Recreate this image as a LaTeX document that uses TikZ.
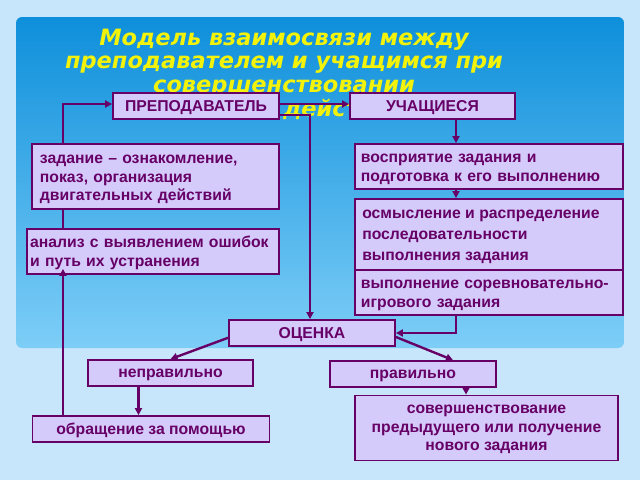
\documentclass[tikz,border=0pt]{standalone}
\usepackage{fontspec}
\setmainfont{Liberation Sans}
\newfontfamily\headfont{DejaVu Sans}
\usetikzlibrary{arrows.meta, positioning}
\definecolor{plum}{HTML}{660066}
\definecolor{lilac}{HTML}{D5CBFB}
\definecolor{sky}{HTML}{C7E6FB}
\definecolor{paneltop}{HTML}{0E8FDB}
\definecolor{panelbottom}{HTML}{7DCEF7}
\definecolor{headyellow}{HTML}{F2F20A}

\begin{document}
\begin{tikzpicture}[
  x=0.025cm, y=-0.025cm,
  block/.style={rectangle, draw=plum, fill=lilac, line width=1.3pt,
                text=plum, font=\fontsize{11.2}{13}\selectfont\bfseries,
                inner sep=0pt, align=center, text depth=0pt},
  leftblock/.style={block, align=left, inner xsep=0.15cm,
                text height=8pt, text depth=#1},
  leftblock/.default=13pt,
  plaintext/.style={text=plum, font=\fontsize{11.2}{14.8}\selectfont\bfseries,
                align=left, inner sep=0pt},
  heading/.style={text=headyellow, align=center, inner sep=0pt,
                font=\headfont\fontsize{16}{16.9}\selectfont\bfseries\itshape},
  arrow/.style={-{Triangle[length=5pt,width=5pt]}, line width=1.7pt, draw=plum},
  line/.style={line width=1.7pt, draw=plum},
]
  \useasboundingbox (0,0) rectangle (640,480);
  % Backdrop and heading
  \fill[sky] (0,0) rectangle (640,480);
  \shade[top color=paneltop, bottom color=panelbottom, rounded corners=0.15cm]
    (16,17) rectangle (624,348);
  \node[heading] (head) at (284,63)
    {Модель взаимосвязи между\\преподавателем и учащимся при\\совершенствовании};
  \node[heading, anchor=west] (headtail) at (283,109) {действий};

  % Upper blocks
  \node[block, minimum width=4.15cm, minimum height=0.65cm]  (prep)  at (196,106)   {ПРЕПОДАВАТЕЛЬ};
  \node[block, minimum width=4.125cm, minimum height=0.65cm] (stud)  at (432.5,106) {УЧАЩИЕСЯ};
  \node[leftblock=26pt, minimum width=6.175cm, minimum height=1.625cm, inner xsep=0.2cm, text width=5.775cm] (task) at (155.5,176.5)
        {задание – ознакомление,\\показ, организация\\двигательных действий};
  \node[leftblock, minimum width=6.3cm, minimum height=1.125cm, inner xsep=0.08cm, text width=6.14cm] (review) at (153,251.5)
        {анализ с выявлением ошибок\\и путь их устранения};
  \node[leftblock, minimum width=6.7cm, minimum height=1.125cm, text width=6.4cm] (percept) at (489,166.5)
        {восприятие задания и\\подготовка к его выполнению};
  \node[block, minimum width=6.7cm, minimum height=1.825cm] (sense) at (489,235.5) {};
  \node[plaintext, anchor=north west] (sensetxt) at (362,210)
        {осмысление и распределение\\последовательности\\выполнения задания\\учащимся};
  \node[leftblock, minimum width=6.7cm, minimum height=1.125cm, text width=6.4cm] (perform) at (489,292.5)
        {выполнение соревновательно-\\игрового задания};

  % Lower blocks
  \node[block, minimum width=4.15cm, minimum height=0.65cm]  (mark)  at (312,333)   {ОЦЕНКА};
  \node[block, minimum width=4.125cm, minimum height=0.65cm] (wrong) at (170.5,373) {неправильно};
  \node[block, minimum width=4.15cm, minimum height=0.65cm]  (right) at (413,374)   {правильно};
  \node[block, minimum width=6.575cm, minimum height=1.625cm] (next) at (486.5,428)
        {совершенствование\\предыдущего или получение\\нового задания};
  \node[block, minimum width=5.925cm, minimum height=0.65cm] (help) at (151,429) {обращение за помощью};

  \coordinate (lft) at (63,104);
  \coordinate (mid) at (310,115);
  \coordinate (rgt) at (456,0);

  % Flows
  \draw[arrow, shorten >=-0.15cm] (help.north -| lft) -- (review.south -| lft);
  \draw[line] (review.north -| lft) -- (task.south -| lft);
  \draw[arrow] (task.north -| lft) -- (lft) -- (prep.west |- lft);
  \draw[arrow] (prep.east |- lft) -- (stud.west |- lft);
  \draw[arrow] (prep.east |- mid) -- (mid) -- (mark.north -| mid);
  \draw[arrow] (stud.south -| rgt) -- (percept.north -| rgt);
  \draw[arrow] (percept.south -| rgt) -- (sense.north -| rgt);
  \draw[arrow] (perform.south -| rgt) |- (mark.east);

  % Outcome branches
  \draw[arrow] ([yshift=-0.12cm]mark.west) -- (wrong.north);
  \draw[arrow] ([yshift=-0.1cm]mark.east) -- ([xshift=1cm]right.north);
  \draw[arrow] ([xshift=1.325cm]right.south) -- ([xshift=1.325cm]right.south |- next.north);
  \draw[arrow] ([xshift=-0.8cm]wrong.south) -- ([xshift=-0.8cm]wrong.south |- help.north);
\end{tikzpicture}
\end{document}
